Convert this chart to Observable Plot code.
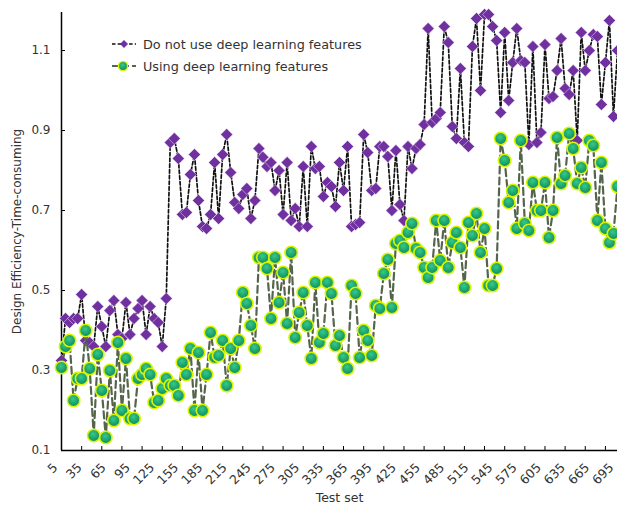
<!DOCTYPE html>
<html><head><meta charset="utf-8">
<script src="https://cdn.jsdelivr.net/npm/d3@7"></script>
<script src="https://cdn.jsdelivr.net/npm/@observablehq/plot@0.6"></script>
<style>
body{margin:0;background:#fff;}
#wrap{position:relative;width:617px;height:507px;font-family:"DejaVu Sans",Verdana,sans-serif;}
#legend{position:absolute;left:112px;top:33px;font-size:12.8px;color:#333;}
.row{display:flex;align-items:center;height:22px;}
.row svg{margin-right:7px;}
</style></head>
<body><div id="wrap"><div id="legend"></div></div>
<script>
// Test set categories (x)
const testSet = d3.range(5, 700, 5);
// Series: "Do not use deep learning features"
const noDeep = [
  0.325,0.43,0.42,0.43,0.43,0.49,0.375,0.37,0.36,0.46,0.41,0.36,0.45,0.475,0.39,0.38,0.47,0.39,0.43,0.455,0.475,0.39,0.46,0.43,0.42,0.36,0.48,
  0.87,0.88,0.83,0.69,0.695,0.79,0.84,0.725,0.66,0.655,0.69,0.82,0.68,0.84,0.89,0.795,0.72,0.705,
  0.74,0.755,0.68,0.725,0.855,0.833,0.81,0.82,0.75,0.80,0.69,0.82,0.675,0.705,0.66,0.81,0.66,0.86,0.805,0.81,0.735,0.77,
  0.76,0.71,0.82,0.75,0.86,0.66,0.665,0.67,0.89,0.845,0.75,0.755,0.86,0.86,0.835,0.70,0.85,0.715,0.675,0.86,0.805,0.855,
  0.865,0.915,1.155,0.92,0.93,0.945,1.16,1.12,0.91,0.88,1.055,0.87,0.86,1.11,1.18,1.0,1.19,1.19,1.16,1.125,0.945,1.145,0.975,1.07,
  1.155,1.075,1.07,0.865,1.11,0.87,0.895,1.115,0.98,0.985,1.05,1.13,1.005,0.99,1.05,0.875,1.145,1.05,1.1,1.14,1.135,0.965,1.07,1.175,0.935,1.1
];
// Series: "Using deep learning features"
const withDeep = [
  0.3075,0.36,0.375,0.225,0.28,0.28,0.40,0.305,0.1375,0.34,0.25,0.1325,0.30,0.175,0.37,0.20,0.33,0.18,0.18,0.28,0.29,0.305,0.29,
  0.22,0.225,0.255,0.28,0.2625,0.2625,0.2375,0.32,0.29,0.355,0.20,0.345,0.20,0.29,0.395,0.333,0.3375,0.375,0.2625,0.355,0.3075,0.375,0.495,
  0.4675,0.4125,0.355,0.5825,0.5825,0.555,0.43,0.5825,0.47,0.545,0.4175,0.595,0.3825,0.445,0.495,0.4125,0.33,0.52,0.37,0.3925,0.52,
  0.4925,0.3625,0.3875,0.3325,0.305,0.5125,0.4925,0.3325,0.40,0.375,0.3375,0.4625,0.455,0.5425,0.5775,0.4575,0.6175,0.625,0.6075,0.645,0.6675,0.605,0.595,
  0.5575,0.5325,0.5575,0.675,0.575,0.675,0.5575,0.62,0.645,0.6075,0.5075,0.67,0.6375,0.6925,0.595,0.655,0.5125,0.5125,0.555,0.88,0.825,
  0.72,0.75,0.655,0.875,0.6675,0.65,0.77,0.70,0.70,0.77,0.6325,0.70,0.8825,0.7675,0.7875,0.8925,0.855,0.7675,0.8075,0.7575,0.875,0.8625,0.675,0.82,0.655,0.62,0.6425,0.76
];
const seriesNames = ["Do not use deep learning features", "Using deep learning features"];
const yTicks = [0.1, 0.3, 0.5, 0.7, 0.9, 1.1];
const xTickLabels = [5,35,65,95,125,155,185,215,245,275,305,335,365,395,425,455,485,515,545,575,605,635,665,695];
const xTickMarks = [5,30,55,80,105,130,155,180,205,230,255,280,305,330,355,380,405,430,455,480,505,530,555,580,605,630,655,680];

const rows = testSet.map((t, i) => ({t, a: noDeep[i], b: withDeep[i]}));

const font = '"DejaVu Sans", Verdana, sans-serif';
const svg = Plot.plot({
  width: 617, height: 507,
  marginLeft: 61, marginRight: 0, marginTop: 12, marginBottom: 57,
  style: {fontFamily: font, fontSize: "12px", color: "#333", background: "#fff", overflow: "hidden"},
  x: {domain: [5, 695]},
  y: {domain: [0.1, 1.195]},
  marks: [
    Plot.axisY({ticks: yTicks, tickSize: 0, tickPadding: 11, tickFormat: d3.format(".1f"),
      label: "Design Efficiency-Time-consuming", labelArrow: "none", labelAnchor: "center", labelOffset: 49, fontSize: 12}),
    Plot.axisY({ticks: yTicks, tickSize: -4, tickFormat: () => "", label: null, stroke: "#000"}),
    Plot.axisX({ticks: xTickLabels, tickSize: 0, tickRotate: -45, tickPadding: 10, dx: -6, dy: 5, tickFormat: d => String(d),
      label: null, fontSize: 12.5}),
    Plot.axisX({ticks: xTickMarks, tickSize: -4, tickFormat: () => "", label: "Test set", labelArrow: "none",
      labelAnchor: "center", labelOffset: 51, fontSize: 12.5, stroke: "#000"}),
    Plot.ruleX([5], {stroke: "#000", strokeWidth: 1.5}),
    Plot.ruleY([0.1], {stroke: "#000", strokeWidth: 1.5}),
    Plot.line(rows, {x: "t", y: "a", stroke: "#111", strokeWidth: 1.7, strokeDasharray: "3.5,2.2"}),
    Plot.dot(rows, {x: "t", y: "a", symbol: "diamond2", r: 5.4, fill: "#7030a0", stroke: "#f0e8f6", strokeWidth: 0.5}),
    Plot.line(rows, {x: "t", y: "b", stroke: "#55654b", strokeWidth: 2.2, strokeDasharray: "7,4"}),
    Plot.dot(rows, {x: "t", y: "b", r: 6.2, fill: "url(#gball)", stroke: "#d9f500", strokeWidth: 1.6})
  ]
});
const defs = d3.select(svg).insert("defs", ":first-child");
const g = defs.append("radialGradient").attr("id", "gball").attr("cx", "45%").attr("cy", "38%").attr("r", "62%");
g.append("stop").attr("offset", "0").attr("stop-color", "#36c98a");
g.append("stop").attr("offset", "1").attr("stop-color", "#0c8a5e");
document.getElementById("wrap").prepend(svg);

// Legend
const lg = document.getElementById("legend");
lg.innerHTML = `
<div class="row"><svg width="24" height="12"><line x1="0" y1="6" x2="24" y2="6" stroke="#111" stroke-width="1.6" stroke-dasharray="3.5,2.2"/><path d="M12,2 L16,6 L12,10 L8,6 Z" fill="#7030a0"/></svg><span>${seriesNames[0]}</span></div>
<div class="row"><svg width="24" height="14"><defs><radialGradient id="gball2" cx="45%" cy="38%" r="62%"><stop offset="0" stop-color="#36c98a"/><stop offset="1" stop-color="#0c8a5e"/></radialGradient></defs><line x1="0" y1="7" x2="24" y2="7" stroke="#55654b" stroke-width="2" stroke-dasharray="7,3"/><circle cx="11" cy="7" r="4.6" fill="url(#gball2)" stroke="#d9f500" stroke-width="1.4"/></svg><span>${seriesNames[1]}</span></div>`;
</script>
</body></html>
